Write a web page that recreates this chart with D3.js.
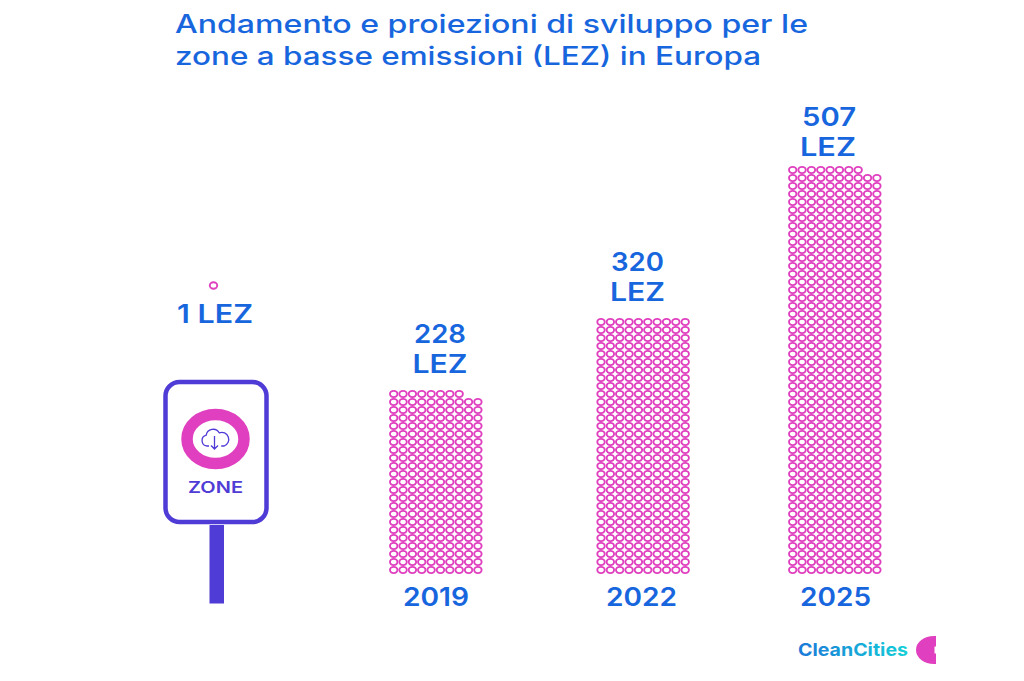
<!DOCTYPE html>
<html><head><meta charset="utf-8">
<script src="https://cdn.jsdelivr.net/npm/d3@7/dist/d3.min.js"></script>
<style>html,body{margin:0;padding:0;background:#fff}svg{display:block}text{font-family:Inter,"Open Sans",sans-serif}</style>
</head><body><svg id="c" width="1024" height="681"></svg>
<script>
const titleLines = ["Andamento e proiezioni di sviluppo per le","zone a basse emissioni (LEZ) in Europa"];
const years = ["2019","2022","2025"];
const lezValues = [228,320,507];
const dotCounts = [228,320,508]; // the picture shows one extra circle in the 2025 stack
const startLabel = "1 LEZ";
const signLabel = "ZONE";
const logoLabel = "CleanCities";
const perRow = 10;
const blue="#1766de", pink="#e040bf", purple="#4f3bd6";

const svg=d3.select("#c");
const yearX=d3.scaleOrdinal().domain(years).range([393.7,601,792.7]);
const colX=d3.scaleLinear().domain([0,9]).range([0,84.2]);
const rowY=d3.scaleLinear().domain([0,50]).range([570,170]);

function label(x,y,txt,w,size,anchor,fill,weight){
  return svg.append("text").attr("x",x).attr("y",y).attr("fill",fill||blue)
    .attr("font-size",size).attr("font-weight",weight||600).attr("text-anchor",anchor||"middle")
    .attr("textLength",w).attr("lengthAdjust","spacingAndGlyphs").text(txt);
}
label(175,33,titleLines[0],633,25,"start",blue,500);
label(175,65,titleLines[1],586,25,"start",blue,500);

const valueX=[440,637.5,829], lezX=[440,637.5,828], valueY=[343,271,126], lezY=[373,301,156];
const valueW=[52,53,54], lezW=[55,55,56], yearLX=[436,641.5,835.5], yearW=[66,71,71];

years.forEach((yr,k)=>{
  const n=dotCounts[k], g=svg.append("g");
  g.selectAll("ellipse").data(d3.range(n)).join("ellipse")
    .attr("cx",i=>yearX(yr)+colX(i%perRow))
    .attr("cy",i=>rowY(Math.floor(i/perRow)))
    .attr("rx",3.7).attr("ry",3.1).attr("fill","none").attr("stroke",pink).attr("stroke-width",1.9);
  label(valueX[k],valueY[k],String(lezValues[k]),valueW[k],26);
  label(lezX[k],lezY[k],"LEZ",lezW[k],26);
  label(yearLX[k],606,yr,yearW[k],25);
});

// single starting dot
svg.append("ellipse").attr("cx",213.5).attr("cy",285.5).attr("rx",3.7).attr("ry",3.2).attr("fill","none").attr("stroke",pink).attr("stroke-width",1.9);
label(215,323,startLabel,76,26);

// sign
svg.append("rect").attr("x",209.5).attr("y",525).attr("width",14.5).attr("height",78.5).attr("fill",purple);
svg.append("rect").attr("x",165.5).attr("y",382).attr("width",101).attr("height",140).attr("rx",14).attr("fill","#fff").attr("stroke",purple).attr("stroke-width",4.5);
svg.append("ellipse").attr("cx",215.5).attr("cy",439).attr("rx",28.5).attr("ry",24.5).attr("fill","#fff").attr("stroke",pink).attr("stroke-width",11.5);
svg.append("path").attr("d","M209 446h-2a5.5 5.5 0 0 1-.8-10.8a7 7 0 0 1 13-2.4a6.2 6.2 0 0 1 5 13.2h-3M214.5 436v13m-3.5-3.5l3.5 3.5l3.5-3.5")
  .attr("fill","none").attr("stroke",purple).attr("stroke-width",1.3);
label(215.5,493,signLabel,55,15.5,"middle",purple);

// logo
const defs=svg.append("defs");
const lg=defs.append("linearGradient").attr("id","lg");
lg.append("stop").attr("offset",0).attr("stop-color","#1a78d8");
lg.append("stop").attr("offset",1).attr("stop-color","#14d0d8");
label(798,656,logoLabel,110,17.5,"start","url(#lg)",700);
svg.append("path").attr("d","M934 636a18 14 0 0 0 0 28h2v-10.5h-1.5v-7h1.5V636z").attr("fill",pink);
</script></body></html>
